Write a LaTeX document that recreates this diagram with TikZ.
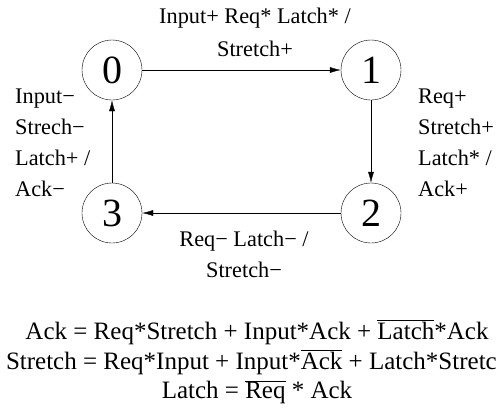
\documentclass[tikz,border=0pt]{standalone}
\usepackage{fontspec}
\setmainfont{Liberation Serif}
\usetikzlibrary{arrows.meta}

\newcommand{\notsig}[1]{\(\overline{\mbox{#1}}\)}

\begin{document}
\begin{tikzpicture}[x=1pt,y=-1pt,
                    state/.style = {draw,circle,minimum size=60pt,inner sep=0pt,font=\fontsize{40}{40}\selectfont},
                    arrow/.style = {-{Latex[length=11pt,width=6pt]}},
                    lbl/.style = {inner sep=0pt,font=\fontsize{22.3}{31}\selectfont},
                    eqn/.style = {inner sep=0pt,font=\fontsize{25}{30}\selectfont}]
                    \useasboundingbox (0,0) rectangle (496,408);

                    \node[state] (s0) at (112,70) {0};
                    \node[state] (s1) at (371,70) {1};
                    \node[state] (s2) at (371,213) {2};
                    \node[state] (s3) at (112,213) {3};

                    \draw[arrow] (s0) -- (s1);
                    \draw[arrow] (s1) -- (s2);
                    \draw[arrow] (s2) -- (s3);
                    \draw[arrow] (s3) -- (s0);

                    \node[lbl,align=center,font=\fontsize{22.3}{33}\selectfont] (lbl01) at (255,32) {Input+ Req* Latch* /\\Stretch+};
                    \node[lbl,align=left,anchor=west] (lbl12) at (418,143) {Req+\\Stretch+\\Latch* /\\Ack+};
                    \node[lbl,align=center] (lbl23) at (244,254) {Req− Latch− /\\Stretch−};
                    \node[lbl,align=left,anchor=west] (lbl30) at (15,143) {Input−\\Strech−\\Latch+ /\\Ack−};

                    \node[eqn] (eqack) at (257,332) {Ack = Req*Stretch + Input*Ack + \notsig{Latch}*Ack};
                    \node[eqn,anchor=east] (eqstretch) at (497,362) {Stretch = Req*Input + Input*\notsig{Ack} + Latch*Stretc};
                    \node[eqn] (eqlatch) at (257,392) {Latch = \notsig{Req} * Ack};
                \end{tikzpicture}
\end{document}
